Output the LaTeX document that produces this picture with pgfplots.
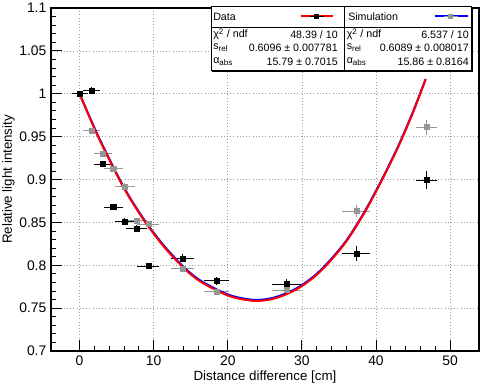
\documentclass[border=0pt]{standalone}
\usepackage{pgfplots}
\pgfplotsset{compat=1.18}
\usepackage{fontspec}
\setmainfont{Liberation Sans}
\definecolor{simgrey}{RGB}{150,150,150}

% Messpunkte: x, x-Fehler, y, y-Fehler
\pgfplotstableread{
x     ex    y      ey
0     0.9   1.000  0.002
1.6   0.95  1.004  0.002
3.15  1.0   0.918  0.002
4.55  1.1   0.868  0.002
6.1   1.15  0.851  0.002
7.7   1.2   0.843  0.002
9.3   1.3   0.799  0.002
13.9  1.4   0.808  0.003
18.5  1.5   0.782  0.003
27.9  1.75  0.778  0.0045
37.35 1.7   0.8135 0.0074
46.8  1.2   0.8995 0.0087
}\datatab

\pgfplotstableread{
x     ex    y      ey
0     0.9   1.000  0.002
1.6   0.95  0.957  0.002
3.15  1.0   0.930  0.002
4.55  1.1   0.913  0.002
6.1   1.15  0.892  0.002
7.7   1.2   0.852  0.002
9.3   1.3   0.848  0.002
13.9  1.4   0.796  0.002
18.5  1.5   0.769  0.002
27.9  1.75  0.771  0.003
37.35 1.7   0.863  0.0055
46.8  1.2   0.961  0.007
}\simtab

\begin{document}
\begin{tikzpicture}
\begin{axis}[
    scale only axis,
    width=321pt, height=257.25pt,
    xmin=-3.85, xmax=53.9,
    ymin=0.7, ymax=1.1,
    xtick={0,10,20,30,40,50},
    ytick={0.7,0.75,0.8,0.85,0.9,0.95,1,1.05,1.1},
    minor x tick num=4,
    minor y tick num=4,
    xtick pos=bottom, ytick pos=left,
    tick align=inside,
    major tick length=8pt, minor tick length=4pt,
    tick style={black, line width=0.6pt},
    axis line style={black, line width=0.8pt},
    grid=major,
    major grid style={dotted, gray!80, line width=0.5pt},
    /pgf/number format/assume math mode=true,
    /pgf/number format/fixed,
    /pgf/number format/precision=2,
    tick label style={font=\fontsize{10.4}{12}\selectfont},
    label style={font=\fontsize{10.5}{12}\selectfont},
    xlabel={Distance difference [cm]},
    ylabel={Relative light intensity},
    every axis x label/.style={at={(rel axis cs:0.5,0)}, yshift=-19.5pt, anchor=center},
    every axis y label/.style={at={(rel axis cs:0,0.5)}, xshift=-32pt, rotate=90, anchor=center},
]

% Simulation
\addplot[only marks, mark=square*, simgrey, mark size=1.9pt,
    error bars/.cd, x dir=both, x explicit, y dir=both, y explicit,
    error bar style={simgrey, line width=0.5pt},
    error mark options={simgrey, mark size=1pt, line width=0.5pt}]
    table[x=x, y=y, x error=ex, y error=ey] {\simtab};

% Daten
\addplot[only marks, mark=square*, black, mark size=1.9pt,
    error bars/.cd, x dir=both, x explicit, y dir=both, y explicit,
    error bar style={black, line width=0.5pt},
    error mark options={black, mark size=1pt, line width=0.5pt}]
    table[x=x, y=y, x error=ex, y error=ey] {\datatab};

% Fit Simulation
\addplot[blue, line width=1.5pt, smooth] coordinates {
    (0,1.000) (2.5,0.951) (5.3,0.902) (7,0.876) (9.13,0.848) (11.5,0.8217)
    (14.2,0.7967) (16.3,0.7822) (19,0.7697) (21,0.7632) (23.7,0.7595)
    (26,0.7617) (28,0.7677) (29.8,0.7757) (31.9,0.7892) (33.9,0.8067)
    (36.1,0.830) (38.5,0.863) (40.85,0.901) (43,0.939) (44.9,0.977) (46.7,1.017)
};

% Fit Daten
\addplot[red, line width=1.5pt, smooth] coordinates {
    (0,1.000) (2.5,0.950) (5.3,0.901) (7,0.875) (9.13,0.847) (11.5,0.8205)
    (14.2,0.7955) (16.3,0.781) (19,0.7685) (21,0.7620) (23.7,0.7583)
    (26,0.7605) (28,0.7665) (29.8,0.7745) (31.9,0.788) (33.9,0.8055)
    (36.1,0.829) (38.5,0.862) (40.85,0.900) (43,0.938) (44.9,0.976) (46.7,1.017)
};
\end{axis}

% Statistik-Boxen (Pixelkoordinaten)
\begin{scope}[shift={(current axis.north west)}, xshift=-38.25pt, yshift=6pt,
    x=0.75pt, y=-0.75pt, font=\fontsize{8}{9}\selectfont, every node/.style={inner sep=0pt}]
    \fill[black] (212.5,7.5) rectangle (473.2,72);
    \filldraw[fill=white, draw=black, line width=0.6pt] (211,6) rectangle (344.3,70.5);
    \filldraw[fill=white, draw=black, line width=0.6pt] (344.3,6) rectangle (471.7,70.5);
    \draw[line width=0.6pt] (211,27.5) -- (471.7,27.5);

    \node[anchor=west] at (213,16.5) {Data};
    \draw[red, line width=1.5pt] (301,16.5) -- (333,16.5);
    \draw[black, line width=0.6pt] (310,16.5) -- (324,16.5);
    \fill[black] (314.5,14) rectangle (319.5,19);
    \node[anchor=west] at (213,34.3) {χ\textsuperscript{2} / ndf};
    \node[anchor=east] at (338,34.3) {48.39 / 10};
    \node[anchor=west] at (213,48) {s\textsubscript{rel}};
    \node[anchor=east] at (338,48) {0.6096 ± 0.007781};
    \node[anchor=west] at (213,61.5) {α\textsubscript{abs}};
    \node[anchor=east] at (338,61.5) {15.79 ± 0.7015};

    \node[anchor=west] at (348,16.5) {Simulation};
    \draw[blue, line width=1.5pt] (435,16.5) -- (468,16.5);
    \draw[simgrey, line width=0.6pt] (444,16.5) -- (458,16.5);
    \fill[simgrey] (448.5,14) rectangle (453.5,19);
    \node[anchor=west] at (346.5,34.3) {χ\textsuperscript{2} / ndf};
    \node[anchor=east] at (469,34.3) {6.537 / 10};
    \node[anchor=west] at (346.5,48) {s\textsubscript{rel}};
    \node[anchor=east] at (469,48) {0.6089 ± 0.008017};
    \node[anchor=west] at (346.5,61.5) {α\textsubscript{abs}};
    \node[anchor=east] at (469,61.5) {15.86 ± 0.8164};
\end{scope}

\pgfresetboundingbox
\path ([shift={(-38.25pt,-26.25pt)}]current axis.south west)
    rectangle ([shift={(0.75pt,6pt)}]current axis.north east);
\end{tikzpicture}
\end{document}
